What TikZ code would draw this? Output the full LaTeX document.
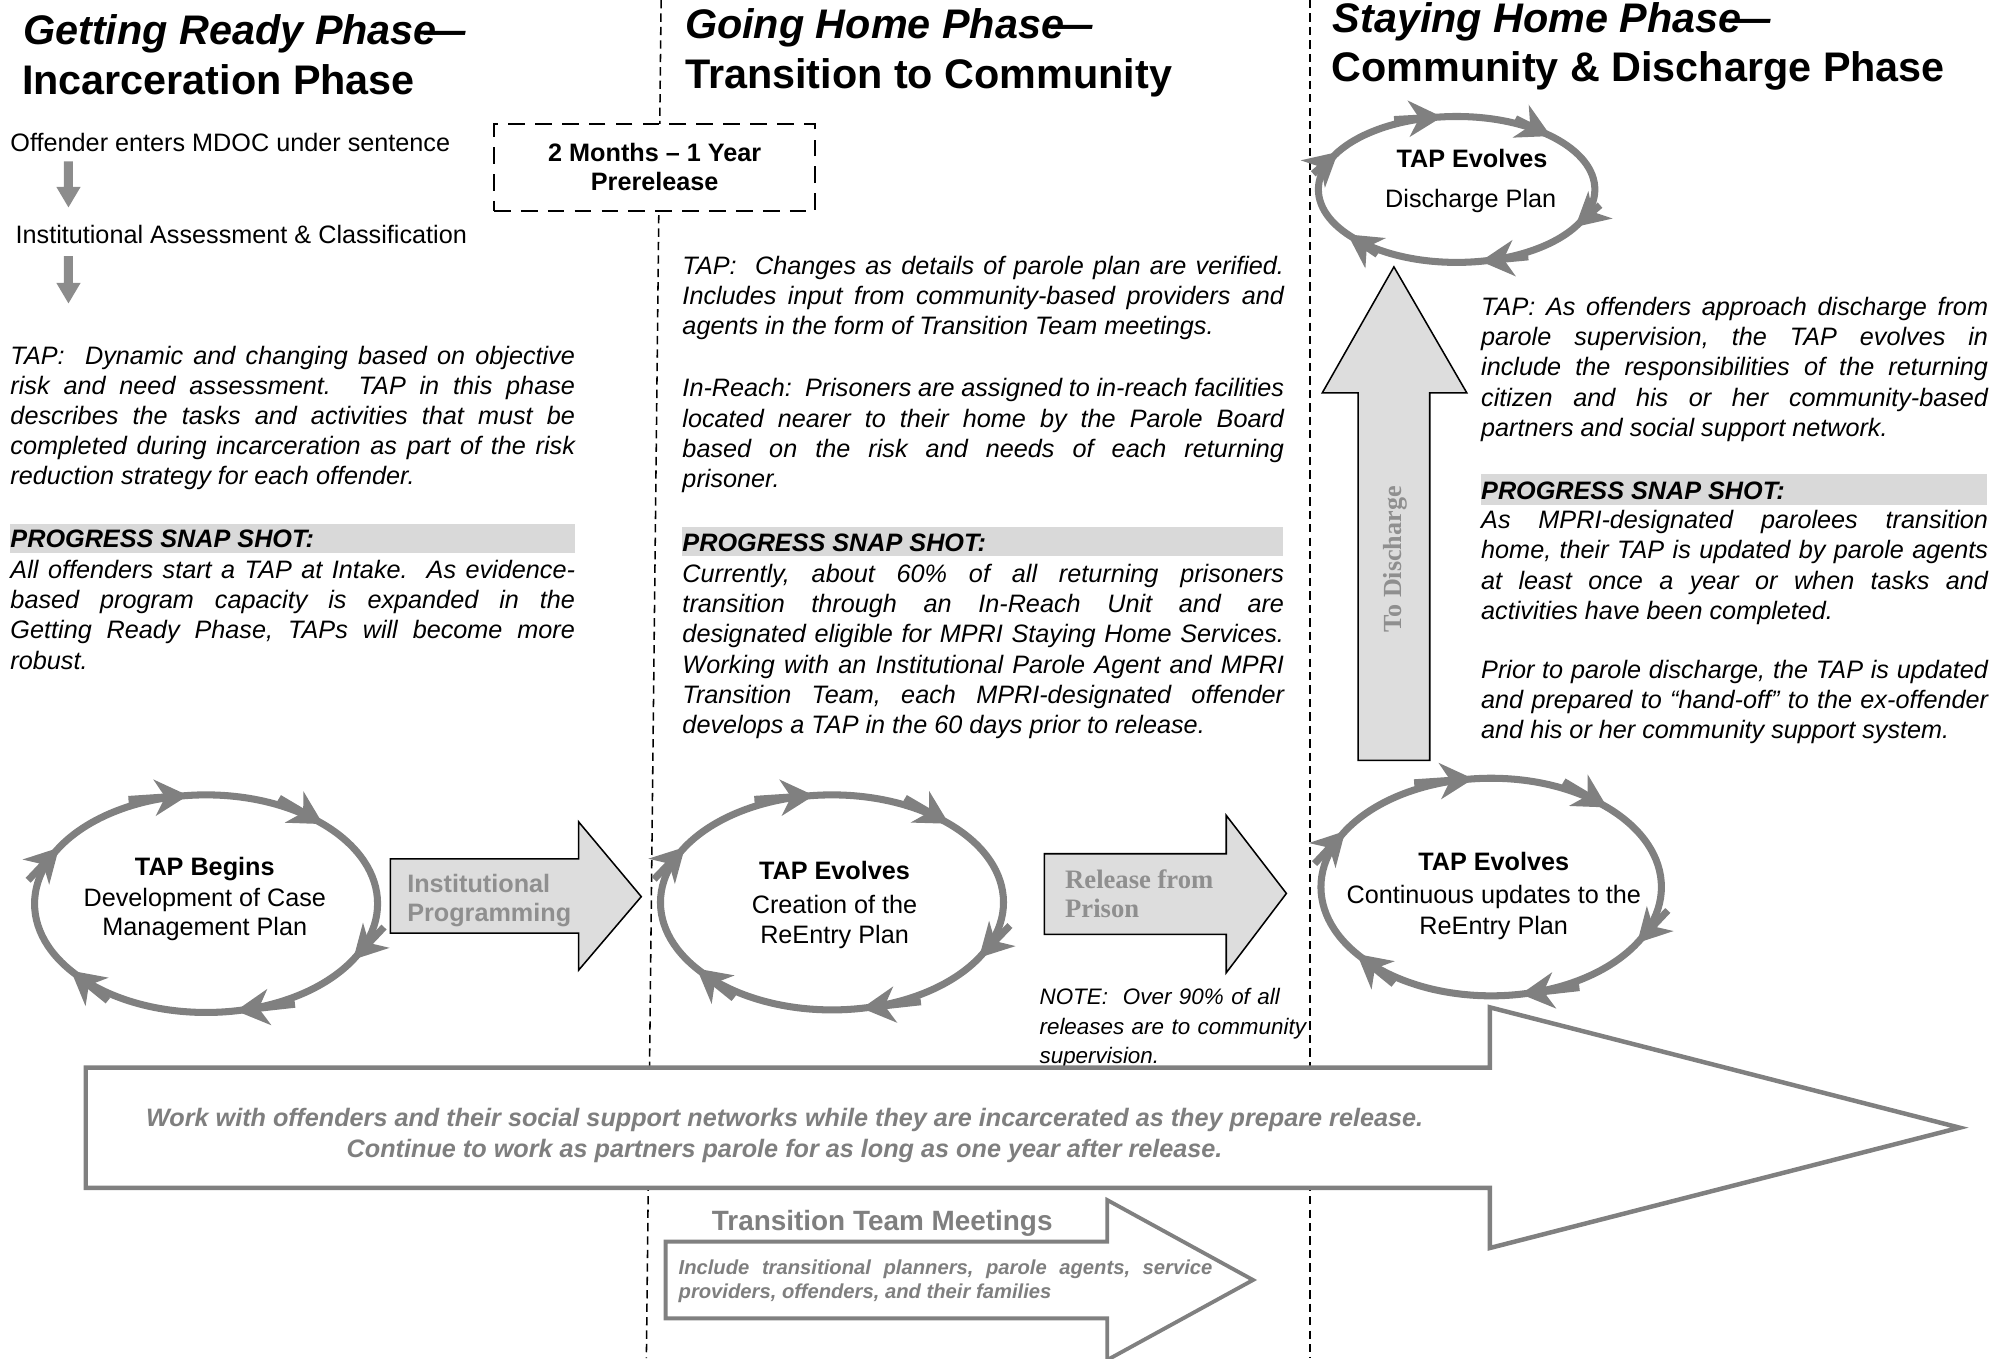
\documentclass[tikz,border=0pt]{standalone}
\usepackage{fontspec}
\setmainfont{Liberation Sans}
\newfontfamily\timesfont{Liberation Serif}
\usetikzlibrary{arrows.meta}

\definecolor{ringgray}{HTML}{808080}
\definecolor{shapefill}{HTML}{DDDDDD}
\definecolor{bargray}{HTML}{D9D9D9}
\definecolor{labelgray}{HTML}{8F8F8F}
\definecolor{notegray}{HTML}{7F7F7F}
\definecolor{pointergray}{HTML}{8C8C8C}

\newcommand\fsz[2]{\fontsize{#1bp}{#2bp}\selectfont}

\frenchspacing
\tolerance=10000
\hbadness=10000
\hyphenpenalty=10000

\tikzset{
  headline/.style={anchor=base west, inner sep=0pt, font=\bfseries\fsz{32.3}{38}},
  lbltext/.style={anchor=base, inner sep=0pt, font=\fsz{19.7}{23.6}},
  lblbold/.style={anchor=base, inner sep=0pt, font=\bfseries\fsz{19.7}{23.6}},
  bodypara/.style={anchor=base west, inner sep=0pt, align=justify, font=\itshape\fsz{19.7}{23.6}},
  snapbar/.style={fill=bargray, draw=none},
  snaptitle/.style={anchor=base west, inner sep=0pt, font=\bfseries\itshape\fsz{19.7}{23.6}},
  phaseline/.style={draw=black, line width=1.2bp, dash pattern=on 6.5bp off 4bp},
  prebox/.style={draw=black, fill=white, line width=1.6bp, dash pattern=on 13bp off 8bp,
    minimum width=251bp, minimum height=68bp, inner sep=0pt},
  ring/.style={draw=ringgray, line width=5.5bp},
  ringtip/.style={draw=ringgray, fill=ringgray, line width=5.5bp,
    -{Stealth[length=26bp, width=28bp, inset=8bp]}},
  blockarrow/.style={draw=black, line width=1.2bp, fill=shapefill, line join=miter},
  outlinearrow/.style={draw=ringgray, line width=3.5bp, fill=white, line join=miter},
  pointer/.style={fill=pointergray, draw=none},
  graylabel/.style={anchor=base west, inner sep=0pt, text=labelgray, font=\bfseries\fsz{19.7}{23.6}},
  seriflabel/.style={anchor=base west, inner sep=0pt, text=labelgray, font=\timesfont\bfseries\fsz{20.8}{24}},
  bandtext/.style={anchor=base, inner sep=0pt, text=notegray, font=\bfseries\itshape\fsz{19.7}{23.6}},
}

% an ellipse with six clockwise arrowheads riding on it
\newcommand\tapring[4]{%
  \draw[ring] (#1,#2) ellipse [x radius=#3, y radius=#4];
  \foreach \ang in {264,313,31,80,142,211}{%
    \draw[ringtip] ({#1+#3*cos(\ang)+0.35*#3*sin(\ang)},{#2+#4*sin(\ang)-0.35*#4*cos(\ang)})
      -- ({#1+#3*cos(\ang)},{#2+#4*sin(\ang)});
  }%
}

\begin{document}
\begin{tikzpicture}[x=1bp,y=-1bp]
\useasboundingbox (0,0) rectangle (1568,1061);
\clip (0,0) rectangle (1568,1061);

% phase separators
\draw[phaseline] (516.5,0) -- (505,1061);
\draw[phaseline] (1023.5,0) -- (1023.5,1061);

% prerelease window
\node[prebox] (prerelease) at (511.5,131) {};
\node[lblbold] (preA) at (511.5,126) {2 Months – 1 Year};
\node[lblbold] (preB) at (511.5,148.5) {Prerelease};

% headings
\node[headline] (ghA) at (18,35) {\itshape Getting Ready Phase\kern-.3em—};
\node[headline] (ghB) at (17,74) {Incarceration Phase};
\node[headline] (gohA) at (535,30) {\itshape Going Home Phase\kern-.3em—};
\node[headline] (gohB) at (535,69) {Transition to Community};
\node[headline] (shA) at (1041,25) {\itshape Staying Home Phase\kern-.3em—};
\node[headline] (shB) at (1040,64) {Community \& Discharge Phase};

% ---- Getting Ready column
\node[lbltext, anchor=base west] (offender) at (8,118) {Offender enters MDOC under sentence};
\fill[pointer] (50,126) -- (57,126) -- (57,146) -- (63,146) -- (53.5,162) -- (44,146) -- (50,146) -- cycle;
\node[lbltext, anchor=base west] (assess) at (12,190) {Institutional Assessment \& Classification};
\fill[pointer] (50,200) -- (57,200) -- (57,221) -- (63,221) -- (53.5,237) -- (44,221) -- (50,221) -- cycle;

\node[bodypara, text width=441bp] (tapA) at (8,284.5) {TAP:\ \ Dynamic and changing based on objective\linebreak
risk and need assessment.\ \ TAP in this phase\linebreak
describes the tasks and activities that must be\linebreak
completed during incarceration as part of the risk\linebreak
reduction strategy for each offender.};

\fill[snapbar] (8,409) rectangle (449,432);
\node[snaptitle] (snapA) at (8,428) {PROGRESS SNAP SHOT:};
\node[bodypara, text width=441bp] (progA) at (8,452) {All offenders start a TAP at Intake.\ \ As evidence-\linebreak
based program capacity is expanded in the\linebreak
Getting Ready Phase, TAPs will become more\linebreak
robust.};

% ---- Going Home column
\node[bodypara, text width=470bp] (tapB) at (533,214.5) {TAP:\ \ Changes as details of parole plan are verified.\linebreak
Includes input from community-based providers and\linebreak
agents in the form of Transition Team meetings.};
\node[bodypara, text width=470bp] (reach) at (533,310) {In-Reach:\ \ Prisoners are assigned to in-reach facilities\linebreak
located nearer to their home by the Parole Board\linebreak
based on the risk and needs of each returning\linebreak
prisoner.};

\fill[snapbar] (533,412) rectangle (1002,434);
\node[snaptitle] (snapB) at (533,430.5) {PROGRESS SNAP SHOT:};
\node[bodypara, text width=470bp] (progB) at (533,455) {Currently, about 60\% of all returning prisoners\linebreak
transition through an In-Reach Unit and are\linebreak
designated eligible for MPRI Staying Home Services.\linebreak
Working with an Institutional Parole Agent and MPRI\linebreak
Transition Team, each MPRI-designated offender\linebreak
develops a TAP in the 60 days prior to release.};

% ---- Staying Home column
\tapring{1138}{148}{108}{57}
\node[lblbold] (dischA) at (1150,131) {TAP Evolves};
\node[lbltext] (dischB) at (1149,162) {Discharge Plan};

\draw[blockarrow] (1061,594) -- (1061,307) -- (1033,307) -- (1089,208.5) -- (1146,307)
  -- (1117,307) -- (1117,594) -- cycle;
\node[rotate=90, inner sep=0pt, text=labelgray, font=\timesfont\bfseries\fsz{20.4}{24}] (todis) at (1090,437) {To Discharge};

\node[bodypara, text width=396bp] (tapC) at (1157,246.5) {TAP: As offenders approach discharge from\linebreak
parole supervision, the TAP evolves in\linebreak
include the responsibilities of the returning\linebreak
citizen and his or her community-based\linebreak
partners and social support network.};

\fill[snapbar] (1157,370.5) rectangle (1552,394.5);
\node[snaptitle] (snapC) at (1157,390) {PROGRESS SNAP SHOT:};
\node[bodypara, text width=396bp] (progC) at (1157,413) {As MPRI-designated parolees transition\linebreak
home, their TAP is updated by parole agents\linebreak
at least once a year or when tasks and\linebreak
activities have been completed.};
\node[bodypara, text width=396bp] (handoff) at (1157,530) {Prior to parole discharge, the TAP is updated\linebreak
and prepared to “hand-off” to the ex-offender\linebreak
and his or her community support system.};

% ---- TAP cycle row
\tapring{161}{706}{134}{85}
\node[lblbold] (begA) at (160,684) {TAP Begins};
\node[lbltext] (begB) at (160,708) {Development of Case};
\node[lbltext] (begC) at (160,731) {Management Plan};

\draw[blockarrow] (305,671) -- (452,671) -- (452,642) -- (501,700.5) -- (452,758)
  -- (452,729) -- (305,729) -- cycle;
\node[graylabel] (progrA) at (318,697) {Institutional};
\node[graylabel] (progrB) at (318,720) {Programming};

\tapring{650}{705}{134}{84}
\node[lblbold] (creA) at (652,687) {TAP Evolves};
\node[lbltext] (creB) at (652,714) {Creation of the};
\node[lbltext] (creC) at (652,737) {ReEntry Plan};

\draw[blockarrow] (816,667) -- (958,667) -- (958,637) -- (1005,698) -- (958,760)
  -- (958,730) -- (816,730) -- cycle;
\node[seriflabel] (relA) at (832,694) {Release from};
\node[seriflabel] (relB) at (832,717) {Prison};

\node[anchor=base west, inner sep=0pt, text width=220bp, align=left,
  font=\itshape\fsz{17.5}{23}] (note) at (812,785) {NOTE:\ \ Over 90\% of all\\
releases are to community\\
supervision.};

\tapring{1165}{693}{133}{85}
\node[lblbold] (contA) at (1167,680) {TAP Evolves};
\node[lbltext] (contB) at (1167,706) {Continuous updates to the};
\node[lbltext] (contC) at (1167,730) {ReEntry Plan};

% ---- long-term partnership band
\draw[outlinearrow] (67,834) -- (1164,834) -- (1164,787) -- (1531,881) -- (1164,975)
  -- (1164,928) -- (67,928) -- cycle;
\node[bandtext] (bandA) at (613,880) {Work with offenders and their social support networks while they are incarcerated as they prepare release.};
\node[bandtext] (bandB) at (613,904) {Continue to work as partners parole for as long as one year after release.};

% ---- transition team meetings
\draw[outlinearrow, line width=3bp] (520,970) -- (865,970) -- (865,937.5) -- (979,1000)
  -- (865,1062.5) -- (865,1030) -- (520,1030) -- cycle;
\node[anchor=base west, inner sep=0pt, text=notegray, font=\bfseries\fsz{21.8}{26}] (ttm) at (556,961) {Transition Team Meetings};
\node[anchor=base west, inner sep=0pt, text width=417bp, align=justify, text=notegray,
  font=\bfseries\itshape\fsz{15.8}{18.5}] (ttmtext) at (530,996) {Include transitional planners, parole agents, service\linebreak
providers, offenders, and their families};

\end{tikzpicture}
\end{document}
